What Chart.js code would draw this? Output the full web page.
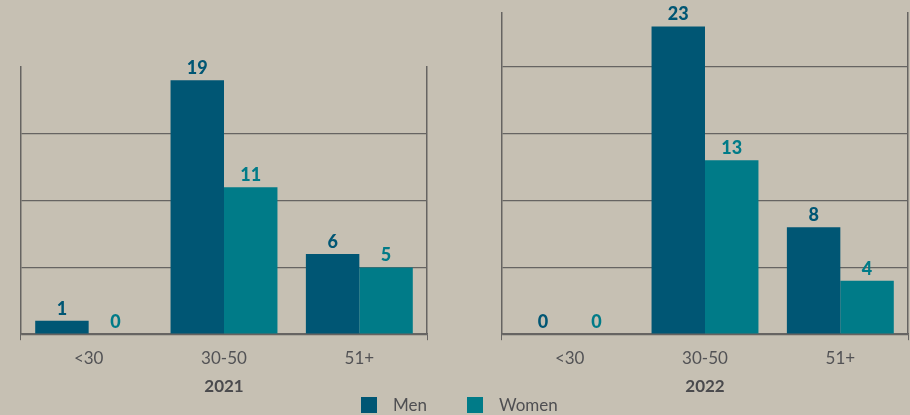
<!DOCTYPE html>
<html>
<head>
<meta charset="utf-8">
<script src="https://cdn.jsdelivr.net/npm/chart.js@4/dist/chart.umd.min.js"></script>
<style>
  html, body { margin: 0; padding: 0; }
  body { width: 910px; height: 415px; background: #c6c0b3; position: relative; overflow: hidden; font-family: Lato, sans-serif; }
  .box { position: absolute; top: 0; width: 455px; height: 397px; }
  #legend { position: absolute; left: 361px; top: 394px; display: flex; align-items: flex-end; font-size: 17px; color: #4f4f52; }
  #legend span.sw { display: inline-block; width: 16px; height: 16px; margin-right: 16px; }
  #legend .item { display: flex; align-items: center; margin-right: 40px; }
</style>
</head>
<body>
<div class="box" style="left:0"><canvas id="c2021"></canvas></div>
<div class="box" style="left:455px"><canvas id="c2022"></canvas></div>
<div id="legend"></div>
<script>
// data
const ageGroups = ["<30", "30-50", "51+"];
const seriesNames = ["Men", "Women"];
const men2021 = [1, 19, 6];
const women2021 = [0, 11, 5];
const men2022 = [0, 23, 8];
const women2022 = [0, 13, 4];

const MEN_COLOR = "#005674";
const WOMEN_COLOR = "#007b88";
const AXIS_COLOR = "#666462";
const TEXT_COLOR = "#525255";

// draw the number above each bar
const valueLabels = {
    id: "valueLabels",
    afterDatasetsDraw(chart) {
        const ctx = chart.ctx;
        ctx.save();
        ctx.font = "900 18px Lato, sans-serif";
        ctx.textAlign = "center";
        ctx.textBaseline = "alphabetic";
        chart.data.datasets.forEach(function(ds, i) {
            chart.getDatasetMeta(i).data.forEach(function(bar, j) {
                ctx.fillStyle = ds.backgroundColor;
                ctx.fillText(ds.data[j], bar.x, bar.y - 6);
            });
        });
        ctx.restore();
    }
};

function makeChart(id, year, menData, womenData, yMax, padLeft, padRight, padTop) {
    return new Chart(document.getElementById(id), {
        type: "bar",
        data: {
            labels: ageGroups,
            datasets: [
                { label: seriesNames[0], data: menData, backgroundColor: MEN_COLOR, yAxisID: "y" },
                { label: seriesNames[1], data: womenData, backgroundColor: WOMEN_COLOR, yAxisID: "y" }
            ]
        },
        options: {
            responsive: true,
            maintainAspectRatio: false,
            animation: false,
            events: [],
            layout: { padding: { left: padLeft, right: padRight, top: padTop, bottom: 0 } },
            plugins: { legend: { display: false }, tooltip: { enabled: false } },
            datasets: { bar: { categoryPercentage: 0.79, barPercentage: 1.0 } },
            scales: {
                x: {
                    grid: {
                        offset: true,
                        drawOnChartArea: false,
                        tickLength: 6,
                        color: c => (c.type === "scale" || c.index === 0) ? AXIS_COLOR : "transparent"
                    },
                    border: { display: true, color: AXIS_COLOR, width: 1.5 },
                    ticks: { color: TEXT_COLOR, font: { family: "Lato", size: 17 }, padding: 8 },
                    title: {
                        display: true,
                        text: year,
                        color: "#4a4a4d",
                        font: { family: "Lato", size: 17, weight: "bold" },
                        padding: { top: 0, bottom: 0 }
                    }
                },
                y: {
                    min: 0,
                    max: yMax,
                    afterBuildTicks: axis => { axis.ticks = axis.ticks.filter(t => t.value % 5 === 0 && t.value < yMax); },
                    ticks: { display: false, stepSize: 1 },
                    grid: { drawTicks: false, color: AXIS_COLOR, lineWidth: 1.2 },
                    border: { display: true, color: AXIS_COLOR, width: 1.5 }
                },
                y2: {
                    position: "right",
                    ticks: { display: false },
                    grid: { drawTicks: false, drawOnChartArea: false },
                    border: { display: true, color: AXIS_COLOR, width: 1.5 }
                }
            }
        },
        plugins: [valueLabels]
    });
}

makeChart("c2021", "2021", men2021, women2021, 20, 21, 28, 67);
makeChart("c2022", "2022", men2022, women2022, 24, 47, 2, 13);

// legend
const legend = document.getElementById("legend");
[MEN_COLOR, WOMEN_COLOR].forEach(function(col, i) {
    const item = document.createElement("div");
    item.className = "item";
    item.innerHTML = '<span class="sw" style="background:' + col + '"></span>' + seriesNames[i];
    legend.appendChild(item);
});
</script>
</body>
</html>
